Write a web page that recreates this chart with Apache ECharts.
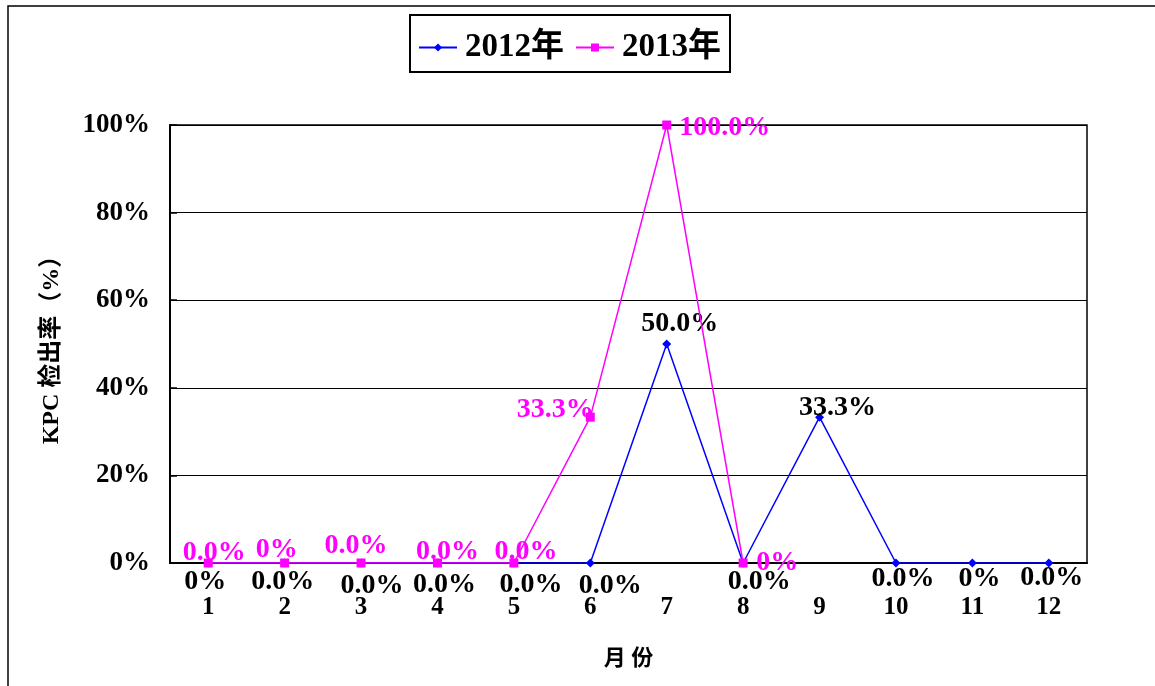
<!DOCTYPE html>
<html>
<head>
<meta charset="utf-8">
<script src="https://cdn.jsdelivr.net/npm/echarts@6/dist/echarts.min.js"></script>
<style>
  html, body { margin: 0; padding: 0; background: #fff; }
  #chart { width: 1155px; height: 686px; }
</style>
</head>
<body>
<div id="chart"></div>
<script>
// data
var months = ['1', '2', '3', '4', '5', '6', '7', '8', '9', '10', '11', '12']
var rate2012 = [0, 0, 0, 0, 0, 0, 50, 0, 33.3, 0, 0, 0]
var rate2013 = [0, 0, 0, 0, 0, 33.3, 100, 0]
var text2012 = ['0%', '0.0%', '0.0%', '0.0%', '0.0%', '0.0%', '50.0%', '0.0%', '33.3%', '0.0%', '0%', '0.0%']
var text2013 = ['0.0%', '0%', '0.0%', '0.0%', '0.0%', '33.3%', '100.0%', '0%']
var yTicks = [0, 20, 40, 60, 80, 100]

// label offsets from the point (pixels), just layout
var off2012 = [[-3, 19], [-2, 19], [11, 23], [7, 22], [17, 22], [20, 23], [13, -20], [16, 19], [18, -9], [7, 16], [7, 16], [3, 15]]
var off2013 = [[6, -10], [-8, -13], [-5, -17], [10, -11], [12, -11], [-35, -7], [58, 3], [34, 0]]

var serif = '"Liberation Serif", "Times New Roman", serif'
var cjk = '"Liberation Serif", "Noto Sans CJK SC", serif'

function buildData(values, texts, offsets, color) {
  return values.map(function(v, i) {
    return {
      value: v,
      label: {
        show: true,
        position: 'inside',
        offset: offsets[i],
        formatter: texts[i],
        color: color,
        fontFamily: serif,
        fontWeight: 'bold',
        fontSize: 28
      }
    }
  })
}

var myChart = echarts.init(document.getElementById('chart'))
var option = {
  animation: false,
  backgroundColor: '#fff',
  graphic: [
    {
      type: 'rect',
      shape: { x: 8, y: 6, width: 1160, height: 700 },
      style: { fill: 'none', stroke: '#000', lineWidth: 1.5 },
      z: -1
    },
    {
      type: 'rect',
      shape: { x: 410, y: 15, width: 320, height: 57 },
      style: { fill: 'none', stroke: '#000', lineWidth: 2 },
      z: 0
    }
  ],
  legend: {
    top: 26,
    left: 413,
    itemWidth: 38,
    itemHeight: 10,
    itemGap: 11,
    textStyle: {
      fontFamily: cjk,
      fontWeight: 'bold',
      fontSize: 33,
      color: '#000',
      padding: [0, 0, 0, 3]
    },
    data: ['2012年', '2013年']
  },
  grid: {
    left: 170,
    right: 68,
    top: 125,
    bottom: 123,
    show: true,
    borderColor: '#000',
    borderWidth: 1.5
  },
  xAxis: {
    type: 'category',
    data: months,
    boundaryGap: true,
    name: '月 份',
    nameLocation: 'middle',
    nameGap: 85,
    nameTextStyle: {
      fontFamily: cjk,
      fontWeight: 'bold',
      fontSize: 22,
      color: '#000'
    },
    axisLine: { lineStyle: { color: '#000', width: 2 } },
    axisTick: { inside: true, length: 7, lineStyle: { color: '#000', width: 1.5 } },
    axisLabel: {
      margin: 32,
      color: '#000',
      fontFamily: serif,
      fontWeight: 'bold',
      fontSize: 25
    }
  },
  yAxis: {
    type: 'value',
    min: yTicks[0],
    max: yTicks[yTicks.length - 1],
    interval: 20,
    name: 'KPC 检出率（%）',
    nameLocation: 'middle',
    nameGap: 106,
    nameRotate: 90,
    nameTextStyle: {
      fontFamily: cjk,
      fontWeight: 'bold',
      fontSize: 24,
      color: '#000'
    },
    axisLine: { show: true, lineStyle: { color: '#000', width: 2 } },
    axisTick: { show: true, inside: true, length: 7, lineStyle: { color: '#000', width: 1.5 } },
    splitLine: { lineStyle: { color: '#000', width: 1.2 } },
    axisLabel: {
      margin: 20,
      formatter: '{value}%',
      color: '#000',
      fontFamily: serif,
      fontWeight: 'bold',
      fontSize: 27
    }
  },
  series: [
    {
      name: '2012年',
      type: 'line',
      symbol: 'diamond',
      symbolSize: 9,
      color: '#0000ff',
      lineStyle: { width: 1.5, color: '#0000ff' },
      data: buildData(rate2012, text2012, off2012, '#000'),
      z: 2
    },
    {
      name: '2013年',
      type: 'line',
      symbol: 'rect',
      symbolSize: 9,
      color: '#ff00ff',
      lineStyle: { width: 1.5, color: '#ff00ff' },
      data: buildData(rate2013, text2013, off2013, '#ff00ff'),
      z: 3
    }
  ]
}
myChart.setOption(option)
</script>
</body>
</html>
